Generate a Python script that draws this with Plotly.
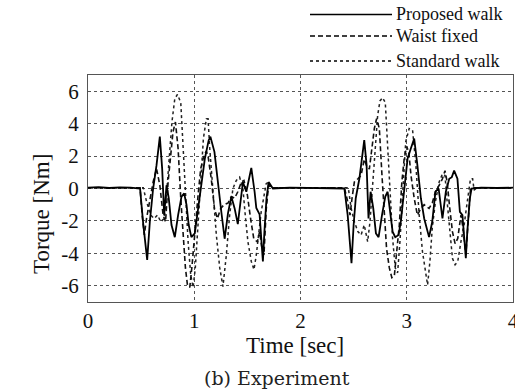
import plotly.graph_objects as go

# ---- data (time [s], torque [Nm]) ----
proposed_walk = [
    (0.00, 0.05), (0.10, 0.08), (0.20, 0.03), (0.30, 0.07), (0.40, 0.05), (0.49, 0.0),
    (0.52, -2.2), (0.557, -4.4), (0.582, -2.05), (0.613, 0.0), (0.645, 1.44), (0.676, 3.2),
    (0.698, 1.23), (0.717, -1.64), (0.739, 0.2), (0.76, -0.6), (0.786, -2.25), (0.817, -3.0),
    (0.848, -1.64), (0.88, -0.5), (0.905, -0.3), (0.927, -1.0), (0.948, -2.25), (0.973, -3.0),
    (1.005, -2.77), (1.036, -1.23), (1.067, 0.4), (1.10, 1.85), (1.136, 2.98), (1.152, 3.2),
    (1.19, 2.26), (1.22, 0.4), (1.255, -1.45), (1.286, -3.1), (1.318, -1.5), (1.349, -0.5),
    (1.38, -1.23), (1.41, -2.2), (1.437, -0.8), (1.458, 0.4), (1.49, -0.2), (1.537, 1.27),
    (1.568, -0.2), (1.584, -1.2), (1.615, -1.6), (1.63, -2.9), (1.646, -4.5), (1.66, -2.7),
    (1.68, -0.6), (1.70, 0.4), (1.74, 0.0), (1.90, 0.05), (2.10, 0.03), (2.30, 0.05),
    (2.413, 0.0), (2.444, -1.64), (2.466, -3.28), (2.48, -4.6), (2.50, -2.25), (2.52, -0.6),
    (2.554, 0.6), (2.58, 2.05), (2.60, 2.98), (2.622, 1.44), (2.64, -1.85), (2.66, -0.2),
    (2.685, -1.23), (2.71, -2.77), (2.735, -3.0), (2.767, -1.64), (2.798, -0.5), (2.82, -0.2),
    (2.842, -1.23), (2.867, -2.66), (2.892, -3.0), (2.923, -2.87), (2.945, -2.0), (2.976, -0.2),
    (3.008, 1.85), (3.04, 2.5), (3.07, 3.08), (3.10, 1.44), (3.133, -0.6), (3.164, -1.85),
    (3.21, -3.0), (3.24, -2.05), (3.27, -0.2), (3.30, 0.0), (3.336, -1.85), (3.368, -0.2),
    (3.40, 0.6), (3.424, 0.7), (3.446, 1.1), (3.477, 0.6), (3.50, -1.44), (3.524, -1.64),
    (3.54, -3.08), (3.556, -4.3), (3.57, -2.66), (3.594, -0.6), (3.61, 0.0), (3.70, 0.05),
    (3.85, 0.03), (4.00, 0.05),
]

waist_fixed = [
    (0.00, 0.05), (0.20, 0.05), (0.49, 0.05), (0.51, -1.64), (0.53, -2.87), (0.551, -1.85),
    (0.582, -0.6), (0.613, 0.4), (0.645, 1.23), (0.676, 0.2), (0.707, -1.64), (0.73, -2.05),
    (0.754, 0.4), (0.78, 2.46), (0.80, 3.5), (0.823, 4.1), (0.848, 2.46), (0.873, -0.6),
    (0.895, -2.87), (0.917, -4.9), (0.936, -5.95), (0.958, -6.1), (0.98, -4.7), (1.005, -2.65),
    (1.036, -0.4), (1.061, 1.23), (1.092, 2.05), (1.114, 2.3), (1.13, 2.0), (1.16, 0.6),
    (1.19, -1.23), (1.218, -1.85), (1.249, -1.23), (1.28, -1.0), (1.318, -0.9), (1.349, -0.5),
    (1.38, -0.6), (1.41, -0.2), (1.443, 0.4), (1.468, 0.5), (1.50, -0.4), (1.53, -1.85),
    (1.56, -3.08), (1.594, -3.3), (1.615, -2.66), (1.637, -3.7), (1.656, -4.1), (1.678, -1.23),
    (1.70, 0.2), (1.74, 0.05), (2.00, 0.05), (2.413, 0.05), (2.444, -0.8), (2.466, -1.64),
    (2.485, -0.6), (2.507, 0.4), (2.54, 0.6), (2.57, 0.8), (2.60, 1.8), (2.622, 1.4),
    (2.648, 1.2), (2.673, 2.46), (2.695, 3.7), (2.716, 4.3), (2.742, 3.7), (2.767, 0.8),
    (2.789, -1.64), (2.81, -3.7), (2.836, -4.9), (2.86, -5.5), (2.883, -5.4), (2.905, -4.1),
    (2.93, -2.25), (2.954, 0.4), (2.976, 1.85), (3.00, 2.6), (3.02, 2.2), (3.04, 0.8),
    (3.07, -0.6), (3.10, -1.64), (3.133, -1.23), (3.164, -1.0), (3.21, -1.23), (3.24, -0.9),
    (3.27, -0.2), (3.305, 0.2), (3.336, 0.6), (3.36, 1.1), (3.38, 0.4), (3.405, -1.23),
    (3.43, -2.66), (3.455, -3.4), (3.48, -3.08), (3.51, -1.64), (3.53, -2.46), (3.556, -4.1),
    (3.577, -2.05), (3.60, 0.0), (3.63, 0.05), (4.00, 0.05),
]

standard_walk = [
    (0.00, 0.05), (0.30, 0.05), (0.52, 0.05), (0.551, -0.8), (0.59, -1.64), (0.623, -1.85),
    (0.654, -1.64), (0.685, -2.05), (0.717, -1.85), (0.748, 0.4), (0.77, 2.46), (0.79, 4.1),
    (0.817, 5.54), (0.842, 5.8), (0.873, 5.3), (0.895, 2.46), (0.917, -0.6), (0.942, -3.28),
    (0.967, -5.33), (0.989, -6.1), (1.01, -4.9), (1.036, -2.05), (1.061, 0.8), (1.086, 3.08),
    (1.114, 4.3), (1.13, 4.3), (1.146, 2.46), (1.177, -0.2), (1.208, -2.87), (1.24, -4.9),
    (1.27, -6.05), (1.302, -4.1), (1.333, -1.64), (1.364, 0.0), (1.396, 0.5), (1.427, 0.7),
    (1.458, 0.0), (1.48, -1.64), (1.505, -3.28), (1.537, -4.5), (1.562, -5.0), (1.584, -4.1),
    (1.61, -2.46), (1.63, -1.44), (1.677, 0.3), (1.70, 0.4), (1.72, 0.05), (2.00, 0.05),
    (2.45, 0.05), (2.476, -1.2), (2.507, -2.05), (2.54, -2.66), (2.57, -2.87), (2.60, -2.25),
    (2.632, -3.28), (2.654, -2.05), (2.68, 0.4), (2.704, 2.87), (2.726, 4.5), (2.748, 5.4),
    (2.773, 5.6), (2.798, 5.3), (2.82, 2.87), (2.842, -0.2), (2.867, -3.08), (2.892, -4.9),
    (2.914, -5.2), (2.936, -3.28), (2.96, -0.2), (2.99, 2.87), (3.023, 3.7), (3.055, 3.6),
    (3.086, 1.44), (3.117, -1.64), (3.148, -3.9), (3.18, -5.5), (3.196, -5.95), (3.218, -4.5),
    (3.24, -2.46), (3.27, -0.8), (3.305, 0.4), (3.336, 0.9), (3.36, 0.8), (3.38, -0.8),
    (3.405, -2.66), (3.43, -4.3), (3.455, -4.7), (3.48, -4.5), (3.51, -3.28), (3.54, -2.25),
    (3.57, -0.8), (3.60, 0.6), (3.62, 0.6), (3.634, -0.1), (3.66, 0.05), (4.00, 0.05),
]

x_ticks = [0, 1, 2, 3, 4]
x_tick_labels = ["0", "1", "2", "3", "4"]
y_ticks = [-6, -4, -2, 0, 2, 4, 6]
y_tick_labels = ["-6", "-4", "-2", "0", "2", "4", "6"]
series_names = ["Proposed walk", "Waist fixed", "Standard walk"]

# ---- figure ----
W, H = 515, 390
L, R, T, B = 88, 2, 75, 88
FONT = "Liberation Serif, Times New Roman, serif"
CAPTION_FONT = "DejaVu Serif, serif"

def px_x(px):
    return (px - L) / (W - L - R)

def px_y(py):
    return (H - B - py) / (H - T - B)

fig = go.Figure()
styles = [
    dict(color="black", width=1.8, dash="solid"),
    dict(color="#111", width=1.6, dash="5px,3px"),
    dict(color="#222", width=1.5, dash="dot"),
]
series = [proposed_walk, waist_fixed, standard_walk]
# draw in order: dotted, dashed, solid (solid on top)
for idx in [2, 1, 0]:
    pts = series[idx]
    fig.add_trace(go.Scatter(
        x=[p[0] for p in pts], y=[p[1] for p in pts],
        mode="lines", name=series_names[idx], line=styles[idx],
        showlegend=False,
    ))

# manual legend (long line samples as in the reference)
legend_y = [14.5, 36, 61]
shapes = []
annotations = []
for i, name in enumerate(series_names):
    st = styles[i]
    shapes.append(dict(type="line", xref="paper", yref="paper",
                       x0=px_x(310), x1=px_x(392), y0=px_y(legend_y[i]), y1=px_y(legend_y[i]),
                       line=dict(color="black", width=1.3 if i else 1.6, dash=st["dash"])))
    annotations.append(dict(text=name, xref="paper", yref="paper",
                            x=px_x(394), y=px_y(legend_y[i] - 0.5), xanchor="left", yanchor="middle",
                            showarrow=False, font=dict(family=FONT, size=18, color="#111")))

annotations.append(dict(text="Time [sec]", xref="paper", yref="paper",
                        x=px_x(295), y=px_y(345), xanchor="center", yanchor="middle",
                        showarrow=False, font=dict(family=FONT, size=23, color="#111")))
annotations.append(dict(text="Torque [Nm]", xref="paper", yref="paper",
                        x=px_x(41), y=px_y(214), xanchor="center", yanchor="middle",
                        textangle=-90, showarrow=False,
                        font=dict(family=FONT, size=23, color="#111")))
annotations.append(dict(text="(b) Experiment", xref="paper", yref="paper",
                        x=px_x(277), y=px_y(378), xanchor="center", yanchor="middle",
                        showarrow=False, font=dict(family=CAPTION_FONT, size=19, color="#222")))

fig.update_layout(
    width=W, height=H,
    margin=dict(l=L, r=R, t=T, b=B, pad=0, autoexpand=False),
    paper_bgcolor="white", plot_bgcolor="white",
    shapes=shapes, annotations=annotations,
    showlegend=False,
)
fig.update_xaxes(
    range=[0, 4], tickvals=x_ticks, ticktext=x_tick_labels, automargin=False,
    ticklabeloverflow="allow",
    showgrid=True, gridcolor="#555", griddash="dot", gridwidth=1,
    showline=True, linecolor="#555", linewidth=1, mirror=True,
    zeroline=False, ticks="", ticklabelstandoff=0,
    tickfont=dict(family=FONT, size=21, color="#111"),
)
fig.update_yaxes(
    range=[-7, 7], tickvals=y_ticks, ticktext=y_tick_labels, automargin=False,
    ticklabeloverflow="allow",
    showgrid=True, gridcolor="#555", griddash="dot", gridwidth=1,
    showline=True, linecolor="#555", linewidth=1, mirror=True,
    zeroline=False, ticks="", ticklabelstandoff=4,
    tickfont=dict(family=FONT, size=21, color="#111"),
)

fig.write_html(
    "out.html",
    config={"displayModeBar": False},
    post_script="document.body.style.margin='0';document.body.style.overflow='hidden';",
)
